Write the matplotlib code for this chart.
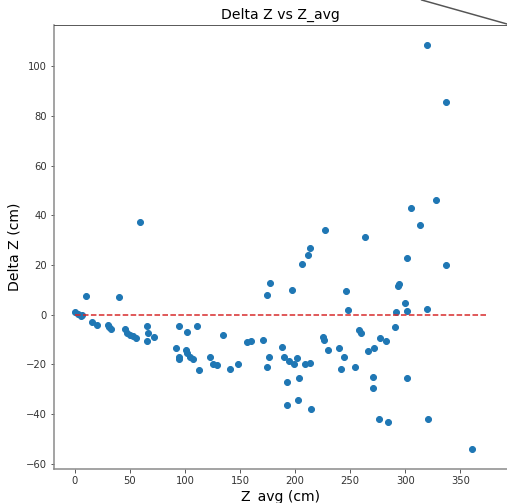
import matplotlib
matplotlib.use("Agg")
import matplotlib.pyplot as plt
from matplotlib.lines import Line2D

# Z_avg (cm) and Delta Z (cm)
z_avg = [0.3, 3.3, 5.7, 7.0, 10.2, 16.0, 19.9, 29.9, 31.4, 32.9,
         40.4, 45.6, 47.1, 50.1, 52.6, 55.3, 59.2, 65.8, 66.7, 65.8,
         71.9, 91.8, 94.8, 94.8, 94.8, 100.6, 101.5, 102.4, 104.5, 107.0,
         110.6, 113.0, 122.7, 125.1, 129.3, 134.2, 141.4, 147.8, 156.5, 160.1,
         171.0, 174.3, 174.3, 176.4, 177.3, 188.2, 189.8, 192.2, 192.2, 194.6,
         197.6, 199.1, 201.3, 202.4, 203.4, 206.1, 208.8, 211.5, 213.3, 213.6,
         214.2, 225.4, 226.3, 226.9, 229.6, 239.6, 241.7, 244.1, 246.0, 248.2,
         253.9, 257.7, 260.2, 263.8, 266.2, 270.4, 270.4, 272.0, 275.9, 276.8,
         282.0, 284.0, 290.7, 291.3, 293.4, 294.6, 299.7, 301.3, 301.9, 301.9,
         305.5, 313.3, 320.0, 320.0, 320.9, 328.2, 336.4, 337.3, 360.5]
delta_z = [1.0, 0.3, -0.7, 0.0, 7.5, -2.8, -4.1, -4.1, -5.1, -5.8,
           7.0, -5.8, -7.5, -8.2, -8.6, -9.3, 37.4, -4.8, -7.3, -10.7,
           -8.9, -13.6, -4.8, -17.0, -18.0, -14.3, -15.3, -7.1, -17.2, -17.8,
           -4.8, -22.3, -17.2, -20.0, -20.4, -8.1, -21.9, -20.0, -11.0, -10.5,
           -10.3, -21.0, 7.7, -17.0, 12.9, -12.9, -17.2, -27.0, -36.5, -18.7,
           9.7, -19.8, -17.6, -34.3, -25.7, 20.3, -19.8, 24.1, 27.0, -19.5,
           -37.9, -8.9, -10.2, 34.2, -14.3, -13.6, -21.9, -17.0, 9.6, 1.9,
           -21.2, -6.3, -7.3, 31.4, -14.7, -25.3, -29.6, -13.3, -42.0, -9.5,
           -10.6, -43.3, -5.2, 1.0, 11.7, 12.3, 4.8, 1.6, 22.6, -25.6,
           43.0, 36.1, 108.5, 2.3, -42.2, 46.0, 19.8, 85.8, -54.2]

# zero reference line
zero_x = [0, 373.5]
zero_y = [0, 0]

fig = plt.figure(figsize=(507 / 72, 503 / 72), dpi=72)
ax = fig.add_axes([54 / 507, 33.7 / 503, 453 / 507, 444.3 / 503])

ax.scatter(z_avg, delta_z, color='tab:blue')
ax.plot(zero_x, zero_y, '--', color='tab:red')

ax.set_title('Delta Z vs Z_avg', fontsize=14)
ax.set_xlabel('Z_avg (cm)', fontsize=14)
ax.set_ylabel('Delta Z (cm)', fontsize=14)

for side in ['left', 'bottom']:
    ax.spines[side].set_color('#888888')
    ax.spines[side].set_linewidth(1.5)
ax.spines['top'].set_color('#333333')
ax.tick_params(colors='#333333', labelsize=10)

# stray line in the top right corner
fig.add_artist(Line2D([421.7 / 507, 1.0], [1.0, 1 - 24 / 503],
                      transform=fig.transFigure, color='#555555', lw=1.5))

fig.savefig('out.png', dpi=72)
